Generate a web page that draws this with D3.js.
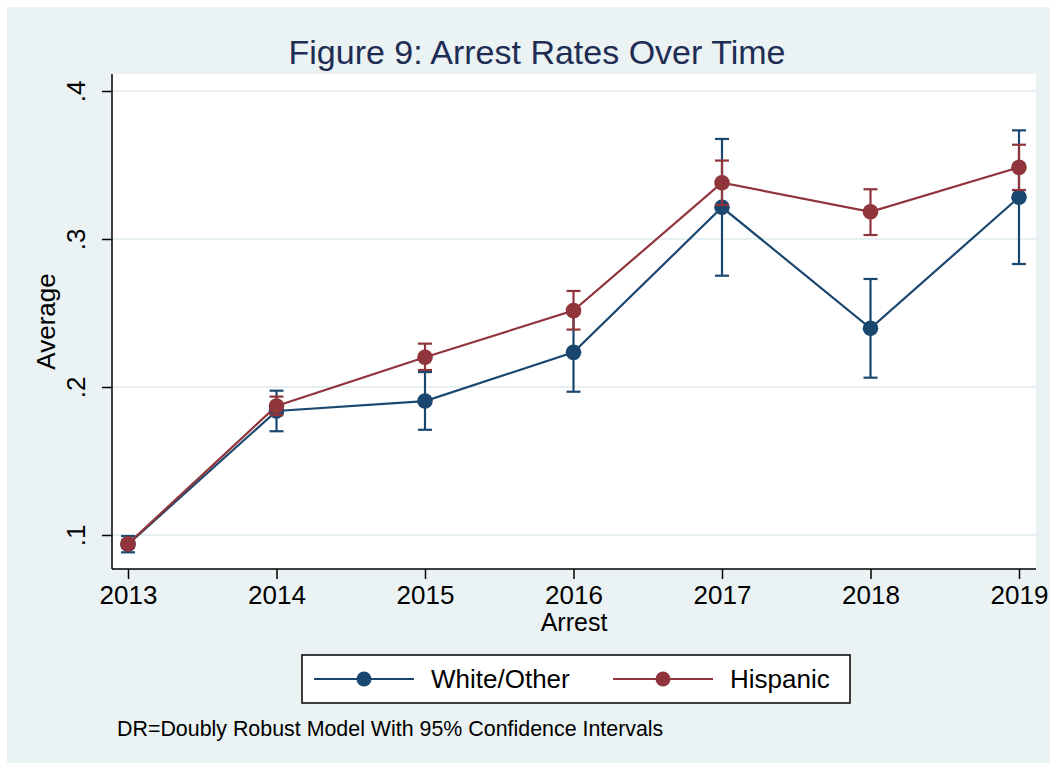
<!DOCTYPE html>
<html><head><meta charset="utf-8">
<script src="https://cdn.jsdelivr.net/npm/d3@7"></script>
<style>body{margin:0;background:#fff;}svg{display:block;font-family:"Liberation Sans",Arial,sans-serif;}</style>
</head><body><svg id="c" width="1050" height="768"></svg>
<script>
const years = [2013, 2014, 2015, 2016, 2017, 2018, 2019];
const whiteMean = [0.0937, 0.1838, 0.1905, 0.2234, 0.3214, 0.2397, 0.3282];
const whiteLo   = [0.0883, 0.1701, 0.1711, 0.1968, 0.2752, 0.2063, 0.2831];
const whiteHi   = [0.0993, 0.1975, 0.2101, 0.2500, 0.3676, 0.2730, 0.3734];
const hispMean  = [0.0940, 0.1872, 0.2201, 0.2516, 0.3380, 0.3184, 0.3484];
const hispLo    = [0.0915, 0.1810, 0.2115, 0.2388, 0.3230, 0.3027, 0.3331];
const hispHi    = [0.0965, 0.1935, 0.2293, 0.2649, 0.3530, 0.3336, 0.3637];
const yTicks = [0.1, 0.2, 0.3, 0.4];
const yTickLabels = [".1", ".2", ".3", ".4"];
const seriesNames = ["White/Other", "Hispanic"];
const colors = ["#1a476f", "#90353b"];

const svg = d3.select("#c");
svg.append("rect").attr("x",7).attr("y",7).attr("width",1043).attr("height",756).attr("fill","#eaf2f3");

const L=112, R=1036, T=74, B=569;
svg.append("rect").attr("x",L).attr("y",T).attr("width",R-L).attr("height",B-T).attr("fill","#fff");

const x = d3.scaleLinear().domain([2013,2019]).range([128,1019]);
const y = d3.scaleLinear().domain([0.1,0.4]).range([535,91]);

// grid
svg.append("g").selectAll("line").data(yTicks).join("line")
  .attr("x1",L).attr("x2",R).attr("y1",d=>y(d)).attr("y2",d=>y(d))
  .attr("stroke","#e6eff1").attr("stroke-width",2);

// axes
const yAxis = d3.axisLeft(y).tickValues(yTicks).tickFormat((d,i)=>yTickLabels[i]).tickSize(10).tickSizeOuter(0);
const gy = svg.append("g").attr("transform",`translate(${L},0)`).call(yAxis);
gy.select(".domain").attr("d",`M0,${T}V${B}`).attr("stroke","#000").attr("stroke-width",1.5);
gy.selectAll(".tick line").attr("stroke","#000").attr("stroke-width",1.5);
gy.selectAll(".tick text").attr("font-size",26).attr("fill","#000")
  .attr("transform","translate(-36,0) rotate(-90)")
  .attr("x",0).attr("y",0).attr("dy","0.35em").attr("text-anchor","middle");

const xAxis = d3.axisBottom(x).tickValues(years).tickFormat(d3.format("d")).tickSize(10).tickSizeOuter(0);
const gx = svg.append("g").attr("transform",`translate(0,${B})`).call(xAxis);
gx.select(".domain").attr("d",`M${L},0H${R}`).attr("stroke","#000").attr("stroke-width",1.5);
gx.selectAll(".tick line").attr("stroke","#000").attr("stroke-width",1.5);
gx.selectAll(".tick text").attr("font-size",26).attr("fill","#000").attr("y",17).attr("dy","0.71em");

// axis titles
svg.append("text").attr("x",574).attr("y",631).attr("text-anchor","middle").attr("font-size",25).text("Arrest");
svg.append("text").attr("transform",`translate(55,${(T+B)/2}) rotate(-90)`).attr("text-anchor","middle").attr("font-size",26).text("Average");

// title
svg.append("text").attr("x",537).attr("y",64).attr("text-anchor","middle").attr("font-size",34).attr("fill","#1e2d53").text("Figure 9: Arrest Rates Over Time");

const series = [
  {mean: whiteMean, lo: whiteLo, hi: whiteHi},
  {mean: hispMean, lo: hispLo, hi: hispHi}
];
const line = d3.line().x((d,i)=>x(years[i])).y(d=>y(d));
series.forEach((s,k)=>{
  const g = svg.append("g");
  const c = colors[k];
  g.append("path").attr("d",line(s.mean)).attr("fill","none").attr("stroke",c).attr("stroke-width",2.2);
  const idx = d3.range(years.length);
  g.selectAll(".v").data(idx).join("line").attr("x1",i=>x(years[i])).attr("x2",i=>x(years[i]))
    .attr("y1",i=>y(s.lo[i])).attr("y2",i=>y(s.hi[i])).attr("stroke",c).attr("stroke-width",2.2);
  g.selectAll(".ct").data(idx).join("line").attr("x1",i=>x(years[i])-7).attr("x2",i=>x(years[i])+7)
    .attr("y1",i=>y(s.hi[i])).attr("y2",i=>y(s.hi[i])).attr("stroke",c).attr("stroke-width",2.2);
  g.selectAll(".cb").data(idx).join("line").attr("x1",i=>x(years[i])-7).attr("x2",i=>x(years[i])+7)
    .attr("y1",i=>y(s.lo[i])).attr("y2",i=>y(s.lo[i])).attr("stroke",c).attr("stroke-width",2.2);
  g.selectAll("circle").data(idx).join("circle").attr("cx",i=>x(years[i])).attr("cy",i=>y(s.mean[i]))
    .attr("r",7.8).attr("fill",c);
});

// legend
const lg = svg.append("g");
lg.append("rect").attr("x",302).attr("y",655).attr("width",548).attr("height",48).attr("fill","#fff").attr("stroke","#000").attr("stroke-width",1.5);
const legX = [314, 613];
seriesNames.forEach((n,k)=>{
  lg.append("line").attr("x1",legX[k]).attr("x2",legX[k]+100).attr("y1",679).attr("y2",679).attr("stroke",colors[k]).attr("stroke-width",2.2);
  lg.append("circle").attr("cx",legX[k]+50).attr("cy",679).attr("r",7.5).attr("fill",colors[k]);
  lg.append("text").attr("x",legX[k]+117).attr("y",688).attr("font-size",26).text(n);
});

svg.append("text").attr("x",117).attr("y",736).attr("font-size",21.4).text("DR=Doubly Robust Model With 95% Confidence Intervals");
</script></body></html>
